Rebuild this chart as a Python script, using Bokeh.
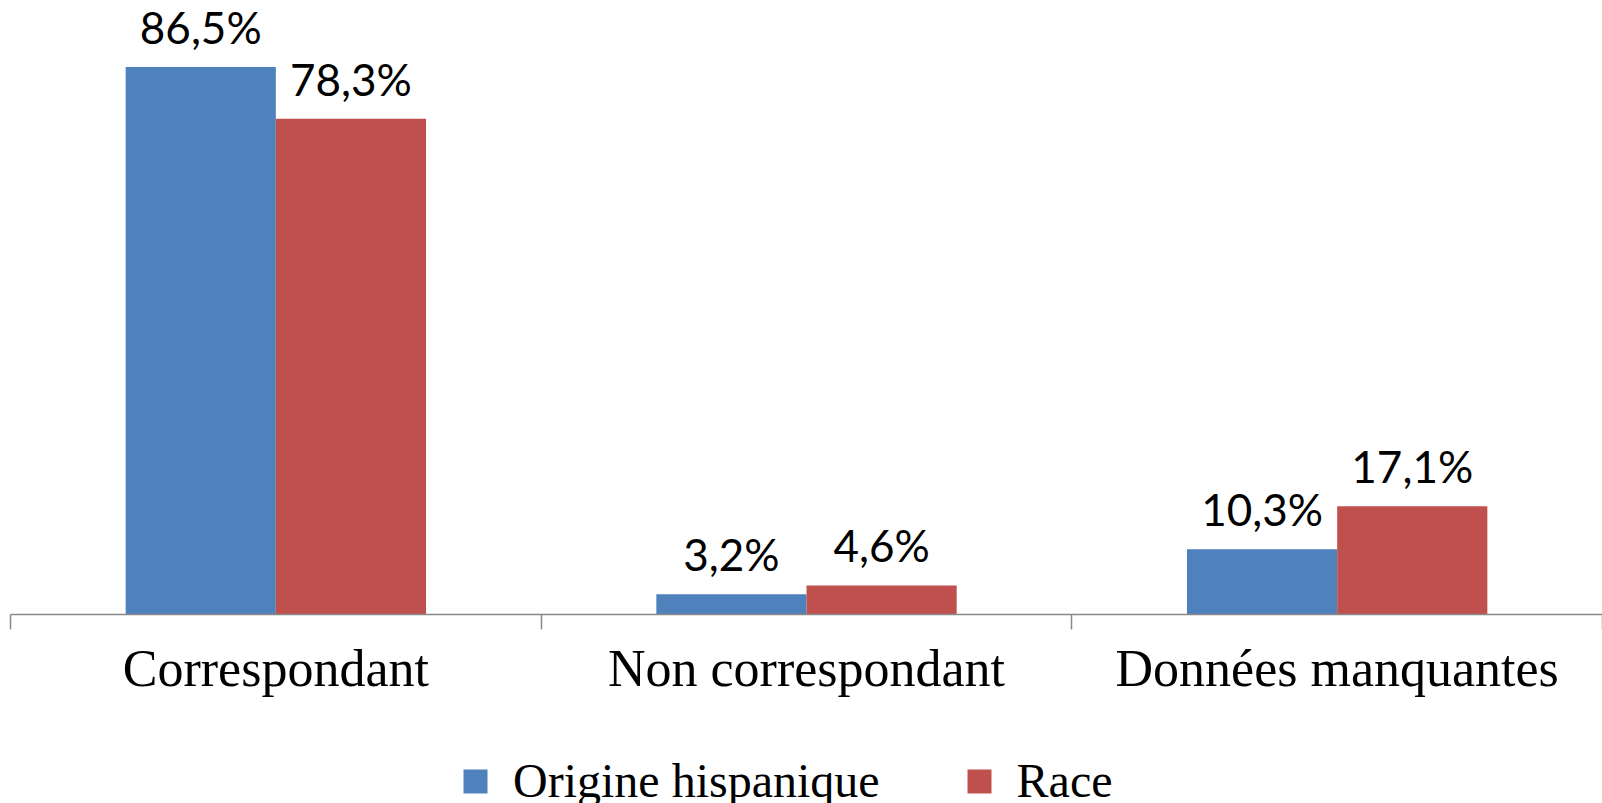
from bokeh.plotting import figure
from bokeh.layouts import column
from bokeh.models import Range1d, FixedTicker, Legend, LegendItem, LinearAxis, ColumnDataSource
from bokeh.embed import file_html
from bokeh.resources import INLINE
from bokeh.core.properties import value

categories = ["Correspondant", "Non correspondant", "Données manquantes"]
series_names = ["Origine hispanique", "Race"]
hispanique = [86.5, 3.2, 10.3]
race = [78.3, 4.6, 17.1]
colors = ["#4F81BD", "#C0504D"]

idx = list(range(len(categories)))
bar_w = 0.283

p = figure(frame_width=1592, frame_height=614,
           x_range=Range1d(0, 3), y_range=Range1d(0, 97.0),
           output_backend="svg", toolbar_location=None,
           min_border_left=10, min_border_right=0, min_border_top=0, min_border_bottom=130,
           x_axis_type=None, y_axis_type=None)
p.outline_line_color = None
p.background_fill_color = "white"

# legend strip below the chart (its bars lie outside its visible range)
q = figure(frame_width=1602, frame_height=59,
           x_range=Range1d(-10, -7), y_range=Range1d(-2, -1),
           output_backend="svg", toolbar_location=None,
           min_border_left=0, min_border_right=0, min_border_top=0, min_border_bottom=0,
           x_axis_type=None, y_axis_type=None)
q.outline_line_color = None

def fmt(v):
    return f"{v:.1f}".replace(".", ",") + "%"

legend_renderers = []
for k, (vals, col) in enumerate(zip([hispanique, race], colors)):
    off = (-bar_w / 2) if k == 0 else (bar_w / 2)
    src = ColumnDataSource(dict(x=[i + 0.5 + off for i in idx], top=vals,
                                lab=[fmt(v) for v in vals]))
    p.vbar(x="x", top="top", bottom=0, width=bar_w, source=src,
           fill_color=col, line_color=None)
    p.text(x="x", y="top", text="lab", source=src, text_align="center",
           text_baseline="alphabetic", y_offset=-40,
           text_font=value("Lato"), text_font_size="44px", text_color="black")
    lr = q.vbar(x="x", top="top", bottom=0, width=bar_w, source=src,
                fill_color=col, line_color=None)
    legend_renderers.append(lr)

ax = LinearAxis(ticker=FixedTicker(ticks=[i + 0.5 for i in idx],
                                   minor_ticks=[float(i) for i in range(len(categories) + 1)]),
                major_label_overrides={i + 0.5: c for i, c in zip(idx, categories)})
ax.axis_line_color = "#898989"
ax.axis_line_width = 1.5
ax.major_tick_line_color = None
ax.major_tick_out = 0
ax.major_tick_in = 0
ax.minor_tick_line_color = "#898989"
ax.minor_tick_line_width = 1.5
ax.minor_tick_out = 15
ax.minor_tick_in = 0
ax.major_label_text_font = "Liberation Serif"
ax.major_label_text_font_size = "52px"
ax.major_label_text_color = "black"
ax.major_label_standoff = 10
p.add_layout(ax, "below")

legend = Legend(items=[LegendItem(label=n, renderers=[r]) for n, r in zip(series_names, legend_renderers)],
                orientation="horizontal", location=(460, -5),
                label_text_font="Liberation Serif", label_text_font_size="48px",
                label_text_color="black",
                glyph_width=30, glyph_height=30, label_standoff=23, spacing=84,
                border_line_color=None, background_fill_alpha=0, padding=0, margin=0)
q.add_layout(legend, "center")

layout = column(p, q, spacing=0)
open("out.html", "w").write(file_html(layout, INLINE))
